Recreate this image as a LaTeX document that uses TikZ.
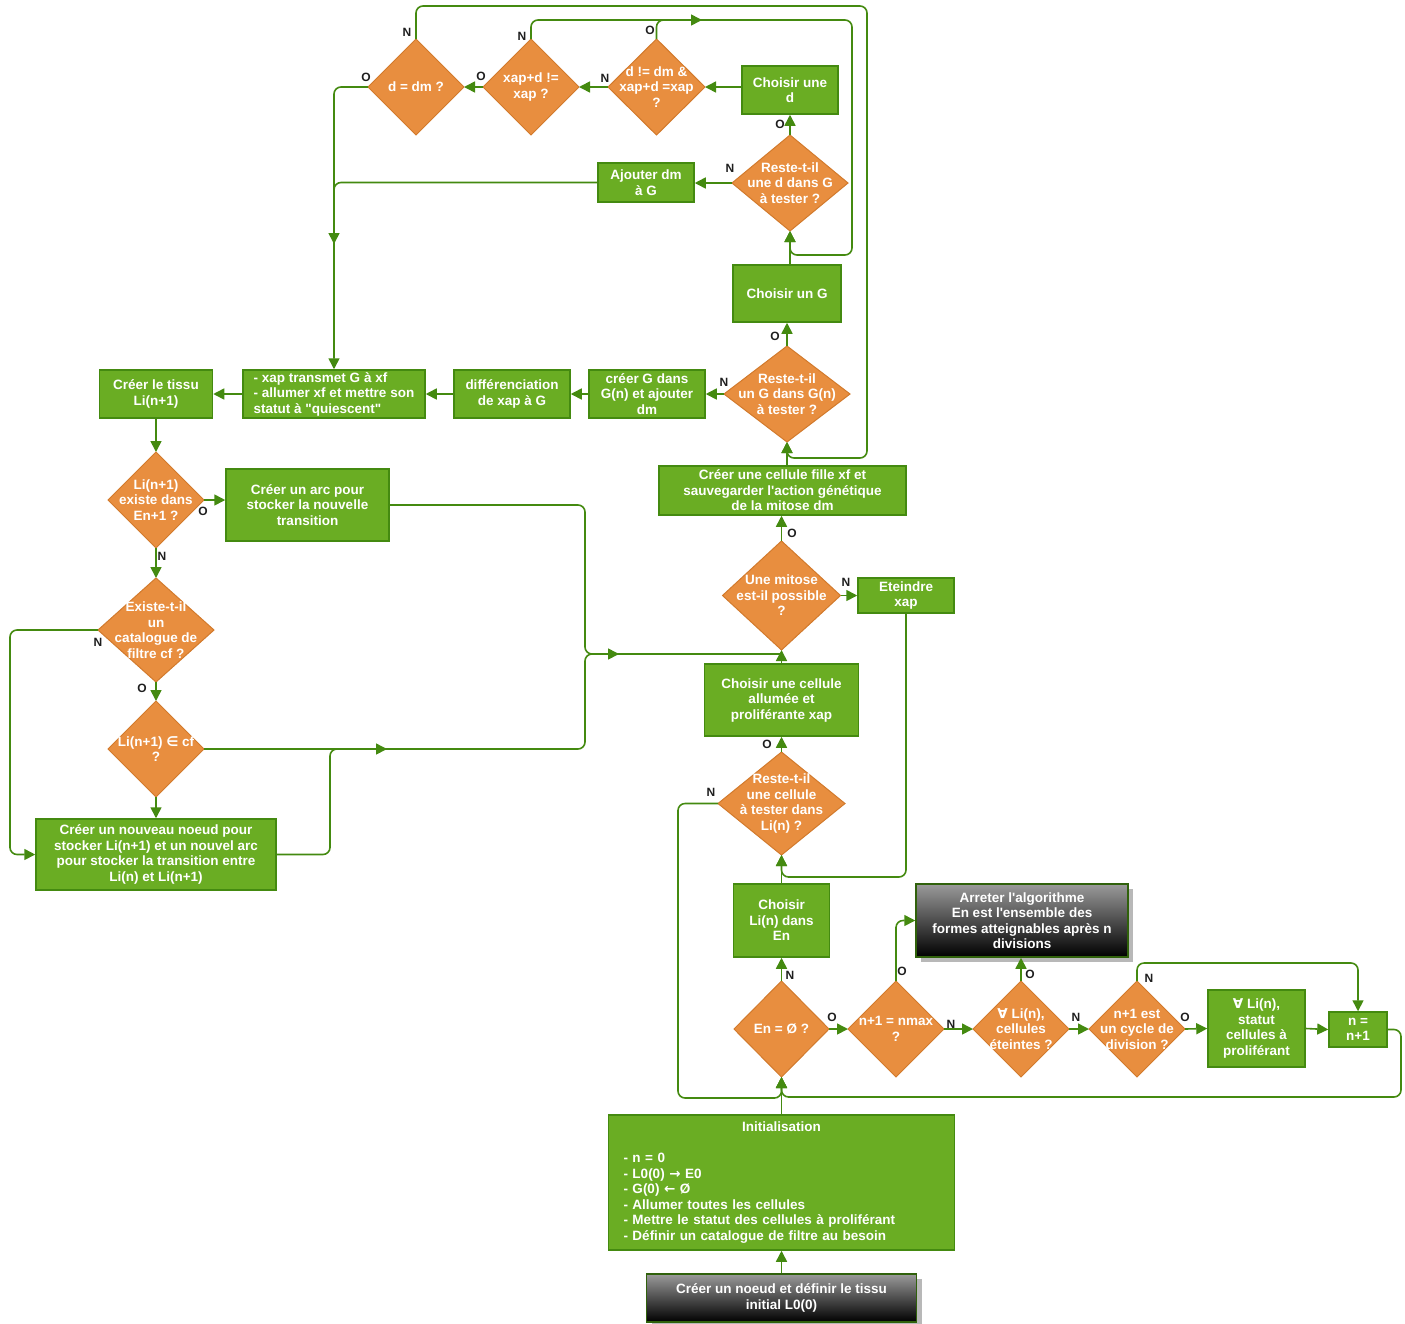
\documentclass[tikz,border=0pt]{standalone}
\usepackage{fontspec}
\setmainfont{Liberation Sans}
\newfontfamily\symf{DejaVu Sans}
\usetikzlibrary{arrows.meta,shapes.geometric,shadows}
\definecolor{gfill}{HTML}{6AAD23}
\definecolor{gline}{HTML}{448A10}
\definecolor{ofill}{HTML}{E88E3F}
\definecolor{oline}{HTML}{D27A2C}
\definecolor{lbl}{HTML}{1E1E1E}
\definecolor{gtop}{HTML}{9A9A9A}
\definecolor{shad}{HTML}{B8B8B8}
\newcommand\bxfont{\bfseries\fontsize{13.5}{15.5}\selectfont}
\newcommand\sq{\textquotesingle}
\tikzset{
  box/.style={rectangle, draw=gline, line width=1.5pt, fill=gfill, text=white, font=\bxfont, align=center, inner sep=0pt},
  blk/.style={rectangle, draw=gline!70!black, line width=1.5pt, top color=gtop, bottom color=black, text=white, font=\bxfont, align=center, inner sep=0pt,
    drop shadow={shadow xshift=5pt, shadow yshift=-5pt, fill=shad, opacity=1}},
  dia/.style={diamond, draw=oline, line width=1pt, fill=ofill, inner sep=0pt, outer sep=0pt},
  dtxt/.style={text=white, font=\bxfont, align=center, inner sep=0pt},
  conn/.style={draw=gline, line width=1.6pt, rounded corners=7pt, -{Triangle[length=11pt,width=11pt]}},
  plainc/.style={draw=gline, line width=1.6pt, rounded corners=7pt},
  lab/.style={font=\bfseries\fontsize{12}{12}\selectfont, text=lbl, inner sep=0pt},
}
\begin{document}
\begin{tikzpicture}[x=1pt,y=-1pt]
\useasboundingbox (0,0) rectangle (1405,1323);
% ---------------- boxes
\node[box, minimum width=96pt, minimum height=48pt] (A) at (790,90) {Choisir une\\d};
\node[box, minimum width=96pt, minimum height=39pt] (B) at (646,182.5) {Ajouter dm\\à G};
\node[box, minimum width=108pt, minimum height=57pt] (C) at (787,293.5) {Choisir un G};
\node[box, minimum width=113pt, minimum height=48pt] (D) at (156,394) {Créer le tissu\\Li(n+1)};
\node[box, minimum width=182pt, minimum height=48pt, align=left] (E) at (334,394) {- xap transmet G à xf\\- allumer xf et mettre son\\statut à \textquotedbl quiescent\textquotedbl};
\node[box, minimum width=116pt, minimum height=48pt] (F) at (512,394) {différenciation\\de xap à G};
\node[box, minimum width=116pt, minimum height=48pt] (G) at (647,394) {créer G dans\\G(n) et ajouter\\dm};
\node[box, minimum width=247pt, minimum height=49pt] (H) at (782.5,490.5) {Créer une cellule fille xf et\\sauvegarder l\sq action génétique\\de la mitose dm};
\node[box, minimum width=163pt, minimum height=72pt] (I) at (307.5,505) {Créer un arc pour\\stocker la nouvelle\\transition};
\node[box, minimum width=240pt, minimum height=71pt] (J) at (156,854.5) {Créer un nouveau noeud pour\\stocker Li(n+1) et un nouvel arc\\pour stocker la transition entre\\Li(n) et Li(n+1)};
\node[box, minimum width=96pt, minimum height=35pt] (K) at (906,595.5) {Eteindre\\xap};
\node[box, minimum width=154pt, minimum height=72pt] (L) at (781.5,700) {Choisir une cellule\\allumée et\\proliférante xap};
\node[box, minimum width=96pt, minimum height=73pt] (M) at (781.5,920.5) {Choisir\\Li(n) dans\\En};
\node[blk, minimum width=212pt, minimum height=73pt] (Nb) at (1022,920.5) {Arreter l\sq algorithme\\En est l\sq ensemble des\\formes atteignables après n\\divisions};
\node[box, minimum width=97pt, minimum height=77pt] (O) at (1256.5,1028.5) {{\symf ∀} Li(n),\\statut\\cellules à\\proliférant};
\node[box, minimum width=58pt, minimum height=35pt] (P) at (1358,1029.5) {n =\\n+1};
\node[box, minimum width=346pt, minimum height=135pt, align=left, text width=316pt] (Q) at (781.5,1182.5) {\makebox[316pt]{Initialisation}\\[15.5pt]- n = 0\\- L0(0) {\symf →} E0\\- G(0) {\symf ←} Ø\\- Allumer toutes les cellules\\- Mettre le statut des cellules à proliférant\\- Définir un catalogue de filtre au besoin};
\node[blk, minimum width=270pt, minimum height=48pt] (R) at (781.5,1298) {Créer un noeud et définir le tissu\\initial L0(0)};
% ---------------- diamonds
\node[dia, minimum width=96pt, minimum height=96pt, label={[dtxt]center:d = dm ?}] (d1) at (416,87) {};
\node[dia, minimum width=96pt, minimum height=96pt, label={[dtxt]center:xap+d !=\\xap ?}] (d2) at (531,87) {};
\node[dia, minimum width=97pt, minimum height=96pt, label={[dtxt]center:d != dm \&\\xap+d =xap\\?}] (d3) at (656.5,87) {};
\node[dia, minimum width=116pt, minimum height=96pt, label={[dtxt]center:Reste-t-il\\une d dans G\\à tester ?}] (d4) at (790,183) {};
\node[dia, minimum width=126pt, minimum height=96pt, label={[dtxt]center:Reste-t-il\\un G dans G(n)\\à tester ?}] (d5) at (787,394) {};
\node[dia, minimum width=96pt, minimum height=96pt, label={[dtxt]center:Li(n+1)\\existe dans\\En+1 ?}] (d6) at (156,500) {};
\node[dia, minimum width=116pt, minimum height=104pt, label={[dtxt]center:Existe-t-il\\un\\catalogue de\\filtre cf ?}] (d7) at (156,630) {};
\node[dia, minimum width=96pt, minimum height=96pt, label={[dtxt]center:Li(n+1) {\symf ∈} cf\\?}] (d8) at (156,749) {};
\node[dia, minimum width=118pt, minimum height=109pt, label={[dtxt]center:Une mitose\\est-il possible\\?}] (d9) at (781.5,595.5) {};
\node[dia, minimum width=127pt, minimum height=103pt, label={[dtxt]center:Reste-t-il\\une cellule\\à tester dans\\Li(n) ?}] (d10) at (781.5,803.5) {};
\node[dia, minimum width=95pt, minimum height=96pt, label={[dtxt]center:En = Ø ?}] (d11) at (781.5,1029) {};
\node[dia, minimum width=96pt, minimum height=96pt, label={[dtxt]center:n+1 = nmax\\?}] (d12) at (896,1029) {};
\node[dia, minimum width=96pt, minimum height=96pt, label={[dtxt]center:{\symf ∀} Li(n),\\cellules\\éteintes ?}] (d13) at (1021,1029) {};
\node[dia, minimum width=96pt, minimum height=96pt, label={[dtxt]center:n+1 est\\un cycle de\\division ?}] (d14) at (1137,1029) {};
% ---------------- junction points
\coordinate (j1) at (334,244);
\coordinate (j2) at (702,20);
\coordinate (j3) at (619,654);
\coordinate (j4) at (387,749);
% ---------------- connectors
\draw[conn] (A.west |- d3.east) -- (d3.east);
\draw[conn] (d3.west) -- (d2.east);
\draw[conn] (d2.west) -- (d1.east);
\draw[conn] (d1.west) -| (j1);
\draw[conn] (B.west) -| (E.north);
\draw[conn] (d3.north) |- (j2);
\draw[conn] (d2.north) |- (852,20) -- (852,255) -| (d4.south);
\draw[conn] (d1.north) |- (867,6) -- (867,458) -| (d5.south);
\draw[conn] (d4.north) -- (d4.north |- A.south);
\draw[conn] (d4.west) -- (d4.west -| B.east);
\draw[conn] (d4.south |- C.north) -- (d4.south);
\draw[conn] (d5.north) -- (d5.north |- C.south);
\draw[conn] (d5.west) -- (G.east);
\draw[conn] (G.west) -- (F.east);
\draw[conn] (F.west) -- (E.east);
\draw[conn] (E.west) -- (D.east);
\draw[conn] (D.south) -- (d6.north);
\draw[conn] (d6.east) -- (d6.east -| I.west);
\draw[conn] (d6.south) -- (d7.north);
\draw[conn] (d7.south) -- (d8.north);
\draw[conn] (d8.south) -- (J.north);
\draw[conn] (d7.west) -- (10,630) |- (J.west);
\draw[conn] (I.east) -| (585,580) |- (j3);
\draw[plainc] (d8.east) -| (585,700) |- (d9.south |- j3);
\draw[conn] (J.east) -| (330,800) |- (j4);
\draw[conn] (d9.north) -- (d9.north |- H.south);
\draw[conn] (d9.east) -- (K.west);
\draw[conn] (L.north) -- (d9.south);
\draw[conn] (H.north -| d5.south) -- (d5.south);
\draw[conn] (K.south) -- (906,877) -| (d10.south);
\draw[conn] (M.north) -- (d10.south);
\draw[conn] (d10.north) -- (L.south);
\draw[conn] (d10.west) -| (678,1000) |- (740,1098) -| (d11.south);
\draw[conn] (d11.north) -- (M.south);
\draw[conn] (d11.east) -- (d12.west);
\draw[conn] (d12.north) |- (Nb.west);
\draw[conn] (d12.east) -- (d13.west);
\draw[conn] (d13.north) -- (d13.north |- Nb.south);
\draw[conn] (d13.east) -- (d14.west);
\draw[conn] (d14.east) -- (O.west);
\draw[conn] (d14.north) |- (1300,963) -| (P.north);
\draw[conn] (O.east) -- (P.west);
\draw[conn] (P.east) -| (1401,1060) |- (900,1097) -| (d11.south);
\draw[conn] (Q.north) -- (d11.south);
\draw[conn] (R.north) -- (Q.south);
% ---------------- labels
\node[lab] (l1) at (407,32) {N};
\node[lab] (l2) at (366,77) {O};
\node[lab] (l3) at (481,76) {O};
\node[lab] (l4) at (522,36) {N};
\node[lab] (l5) at (605,78) {N};
\node[lab] (l6) at (650,30) {O};
\node[lab] (l7) at (780,124) {O};
\node[lab] (l8) at (730,168) {N};
\node[lab] (l9) at (775,336) {O};
\node[lab] (l10) at (724,382) {N};
\node[lab] (l11) at (203,511) {O};
\node[lab] (l12) at (162,556) {N};
\node[lab] (l13) at (98,642) {N};
\node[lab] (l14) at (142,688) {O};
\node[lab] (l15) at (792,533) {O};
\node[lab] (l16) at (846,582) {N};
\node[lab] (l17) at (767,744) {O};
\node[lab] (l18) at (711,792) {N};
\node[lab] (l19) at (790,975) {N};
\node[lab] (l20) at (832,1017) {O};
\node[lab] (l21) at (902,971) {O};
\node[lab] (l22) at (951,1024) {N};
\node[lab] (l23) at (1030,974) {O};
\node[lab] (l24) at (1076,1017) {N};
\node[lab] (l25) at (1185,1017) {O};
\node[lab] (l26) at (1149,978) {N};
\end{tikzpicture}
\end{document}
